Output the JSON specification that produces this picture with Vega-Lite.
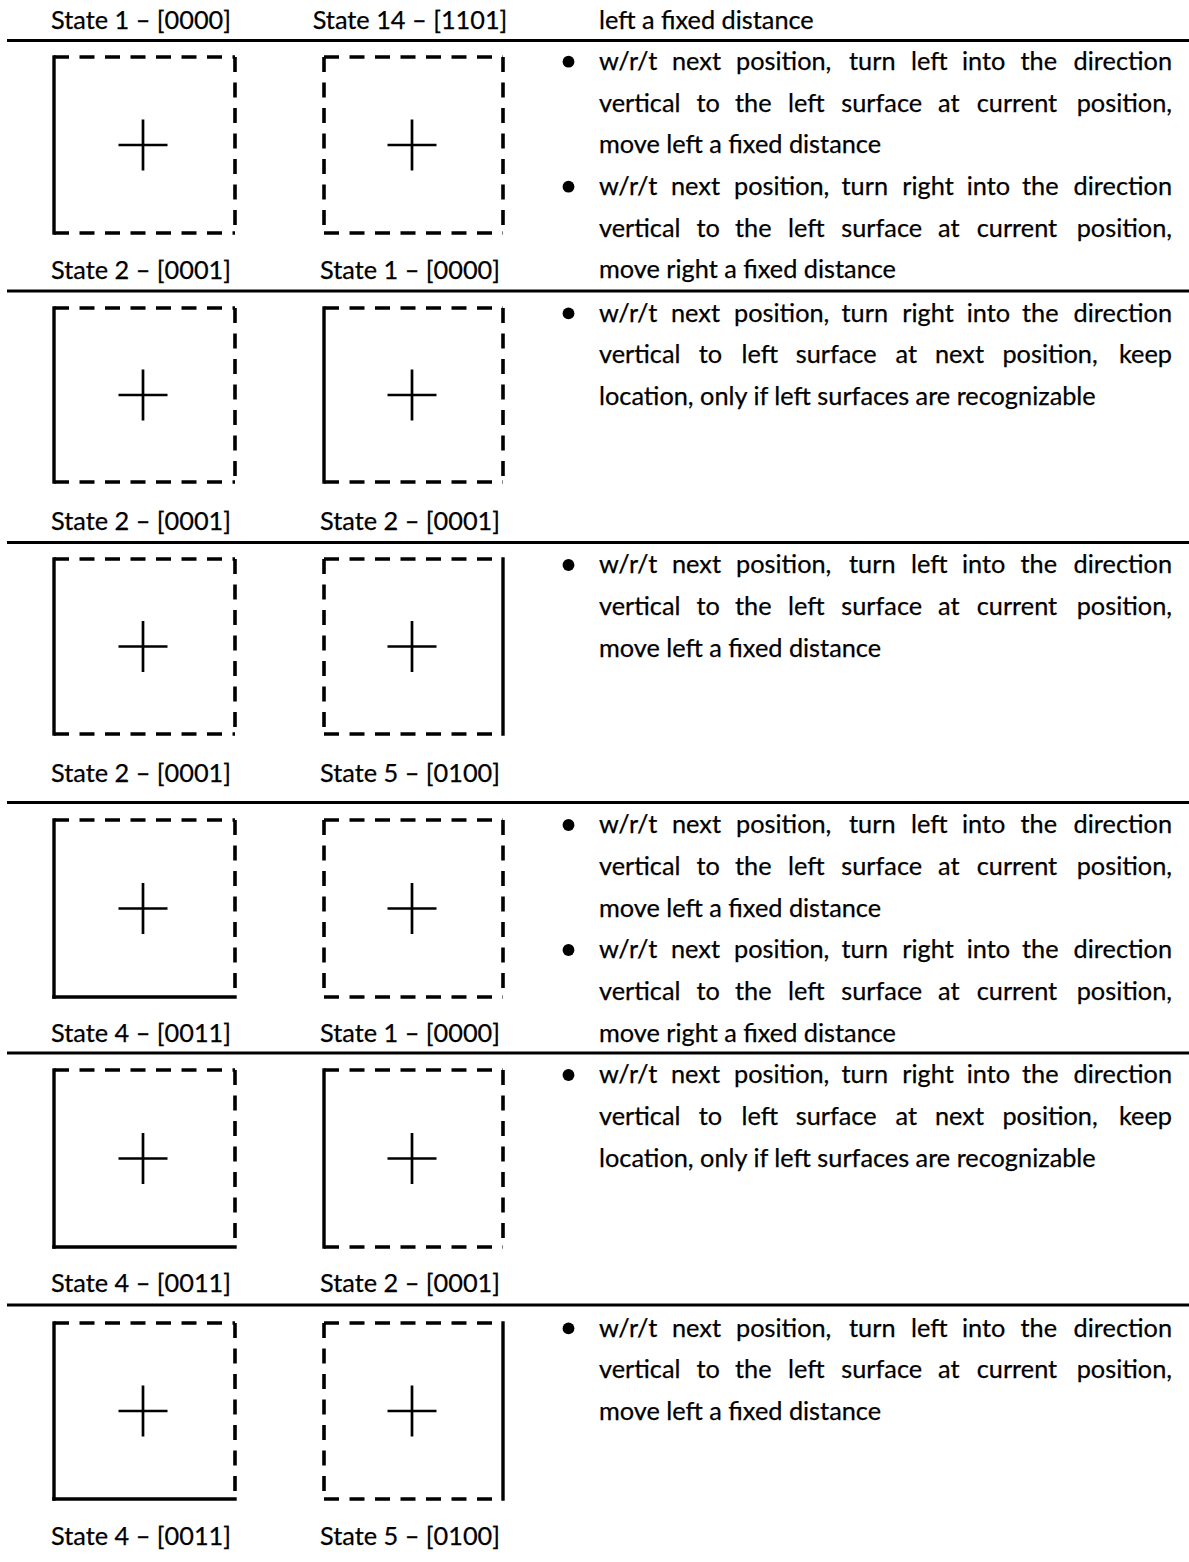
{
"$schema":"https://vega.github.io/schema/vega-lite/v6.json",
"width":1189,"height":1562,"padding":0,"autosize":{"type":"none"},
"background":"white",
"config":{"view":{"stroke":null},"text":{"font":"Lato","fontSize":25.3,"color":"#000","stroke":"#000","strokeWidth":0.25}},
"datasets":{
"segs":[
{"kind":"rule","x":7,"y":40.5,"x2":1189,"y2":40.5},
{"kind":"rule","x":7,"y":291,"x2":1189,"y2":291},
{"kind":"rule","x":7,"y":542.5,"x2":1189,"y2":542.5},
{"kind":"rule","x":7,"y":802.5,"x2":1189,"y2":802.5},
{"kind":"rule","x":7,"y":1053,"x2":1189,"y2":1053},
{"kind":"rule","x":7,"y":1305,"x2":1189,"y2":1305},

{"kind":"dashed","x":54,"y":57,"x2":235,"y2":57},
{"kind":"dashed","x":235,"y":57,"x2":235,"y2":233},
{"kind":"dashed","x":54,"y":233,"x2":235,"y2":233},
{"kind":"solid","x":54,"y":57,"x2":54,"y2":233},
{"kind":"dashed","x":324,"y":57,"x2":503,"y2":57},
{"kind":"dashed","x":503,"y":57,"x2":503,"y2":233},
{"kind":"dashed","x":324,"y":233,"x2":503,"y2":233},
{"kind":"dashed","x":324,"y":57,"x2":324,"y2":233},

{"kind":"dashed","x":54,"y":308,"x2":235,"y2":308},
{"kind":"dashed","x":235,"y":308,"x2":235,"y2":482},
{"kind":"dashed","x":54,"y":482,"x2":235,"y2":482},
{"kind":"solid","x":54,"y":308,"x2":54,"y2":482},
{"kind":"dashed","x":324,"y":308,"x2":503,"y2":308},
{"kind":"dashed","x":503,"y":308,"x2":503,"y2":482},
{"kind":"dashed","x":324,"y":482,"x2":503,"y2":482},
{"kind":"solid","x":324,"y":308,"x2":324,"y2":482},

{"kind":"dashed","x":54,"y":559,"x2":235,"y2":559},
{"kind":"dashed","x":235,"y":559,"x2":235,"y2":734},
{"kind":"dashed","x":54,"y":734,"x2":235,"y2":734},
{"kind":"solid","x":54,"y":559,"x2":54,"y2":734},
{"kind":"dashed","x":324,"y":559,"x2":503,"y2":559},
{"kind":"solid","x":503,"y":559,"x2":503,"y2":734},
{"kind":"dashed","x":324,"y":734,"x2":503,"y2":734},
{"kind":"dashed","x":324,"y":559,"x2":324,"y2":734},

{"kind":"dashed","x":54,"y":820,"x2":235,"y2":820},
{"kind":"dashed","x":235,"y":820,"x2":235,"y2":997},
{"kind":"solid","x":54,"y":997,"x2":235,"y2":997},
{"kind":"solid","x":54,"y":820,"x2":54,"y2":997},
{"kind":"dashed","x":324,"y":820,"x2":503,"y2":820},
{"kind":"dashed","x":503,"y":820,"x2":503,"y2":997},
{"kind":"dashed","x":324,"y":997,"x2":503,"y2":997},
{"kind":"dashed","x":324,"y":820,"x2":324,"y2":997},

{"kind":"dashed","x":54,"y":1070,"x2":235,"y2":1070},
{"kind":"dashed","x":235,"y":1070,"x2":235,"y2":1247},
{"kind":"solid","x":54,"y":1247,"x2":235,"y2":1247},
{"kind":"solid","x":54,"y":1070,"x2":54,"y2":1247},
{"kind":"dashed","x":324,"y":1070,"x2":503,"y2":1070},
{"kind":"dashed","x":503,"y":1070,"x2":503,"y2":1247},
{"kind":"dashed","x":324,"y":1247,"x2":503,"y2":1247},
{"kind":"solid","x":324,"y":1070,"x2":324,"y2":1247},

{"kind":"dashed","x":54,"y":1323,"x2":235,"y2":1323},
{"kind":"dashed","x":235,"y":1323,"x2":235,"y2":1499},
{"kind":"solid","x":54,"y":1499,"x2":235,"y2":1499},
{"kind":"solid","x":54,"y":1323,"x2":54,"y2":1499},
{"kind":"dashed","x":324,"y":1323,"x2":503,"y2":1323},
{"kind":"solid","x":503,"y":1323,"x2":503,"y2":1499},
{"kind":"dashed","x":324,"y":1499,"x2":503,"y2":1499},
{"kind":"dashed","x":324,"y":1323,"x2":324,"y2":1499},

{"kind":"cross","x":118.5,"y":145,"x2":167.5,"y2":145},
{"kind":"cross","x":143,"y":119.5,"x2":143,"y2":170.5},
{"kind":"cross","x":387.5,"y":145,"x2":436.5,"y2":145},
{"kind":"cross","x":412,"y":119.5,"x2":412,"y2":170.5},
{"kind":"cross","x":118.5,"y":395,"x2":167.5,"y2":395},
{"kind":"cross","x":143,"y":369.5,"x2":143,"y2":420.5},
{"kind":"cross","x":387.5,"y":395,"x2":436.5,"y2":395},
{"kind":"cross","x":412,"y":369.5,"x2":412,"y2":420.5},
{"kind":"cross","x":118.5,"y":646.5,"x2":167.5,"y2":646.5},
{"kind":"cross","x":143,"y":621,"x2":143,"y2":672},
{"kind":"cross","x":387.5,"y":646.5,"x2":436.5,"y2":646.5},
{"kind":"cross","x":412,"y":621,"x2":412,"y2":672},
{"kind":"cross","x":118.5,"y":908.5,"x2":167.5,"y2":908.5},
{"kind":"cross","x":143,"y":883,"x2":143,"y2":934},
{"kind":"cross","x":387.5,"y":908.5,"x2":436.5,"y2":908.5},
{"kind":"cross","x":412,"y":883,"x2":412,"y2":934},
{"kind":"cross","x":118.5,"y":1158.5,"x2":167.5,"y2":1158.5},
{"kind":"cross","x":143,"y":1133,"x2":143,"y2":1184},
{"kind":"cross","x":387.5,"y":1158.5,"x2":436.5,"y2":1158.5},
{"kind":"cross","x":412,"y":1133,"x2":412,"y2":1184},
{"kind":"cross","x":118.5,"y":1411,"x2":167.5,"y2":1411},
{"kind":"cross","x":143,"y":1385.5,"x2":143,"y2":1436.5},
{"kind":"cross","x":387.5,"y":1411,"x2":436.5,"y2":1411},
{"kind":"cross","x":412,"y":1385.5,"x2":412,"y2":1436.5}
],
"labels":[
{"x":141,"y":29,"t":"State 1 – [0000]"},{"x":410,"y":29,"t":"State 14 – [1101]"},
{"x":141,"y":279,"t":"State 2 – [0001]"},{"x":410,"y":279,"t":"State 1 – [0000]"},
{"x":141,"y":530,"t":"State 2 – [0001]"},{"x":410,"y":530,"t":"State 2 – [0001]"},
{"x":141,"y":781.5,"t":"State 2 – [0001]"},{"x":410,"y":781.5,"t":"State 5 – [0100]"},
{"x":141,"y":1041.7,"t":"State 4 – [0011]"},{"x":410,"y":1041.7,"t":"State 1 – [0000]"},
{"x":141,"y":1292,"t":"State 4 – [0011]"},{"x":410,"y":1292,"t":"State 2 – [0001]"},
{"x":141,"y":1545,"t":"State 4 – [0011]"},{"x":410,"y":1545,"t":"State 5 – [0100]"}
],
"bullets":[{"x":568.5,"y":61.7},{"x":568.5,"y":186.7},{"x":568.5,"y":313.4},{"x":568.5,"y":565},{"x":568.5,"y":825},{"x":568.5,"y":950},{"x":568.5,"y":1075},{"x":568.5,"y":1328.4}],
"words":[
{"y":29,"x":599,"w":"left a fixed distance"},

{"y":70,"x":599,"w":"w/r/t"},{"y":70,"x":672,"w":"next"},{"y":70,"x":736,"w":"position,"},{"y":70,"x":849,"w":"turn"},{"y":70,"x":911,"w":"left"},{"y":70,"x":962,"w":"into"},{"y":70,"x":1020.5,"w":"the"},
{"y":111.7,"x":599,"w":"vertical"},{"y":111.7,"x":696.5,"w":"to"},{"y":111.7,"x":735,"w":"the"},{"y":111.7,"x":788,"w":"left"},{"y":111.7,"x":841.3,"w":"surface"},{"y":111.7,"x":938,"w":"at"},{"y":111.7,"x":976.7,"w":"current"},
{"y":153.3,"x":599,"w":"move left a fixed distance"},
{"y":195,"x":599,"w":"w/r/t"},{"y":195,"x":671,"w":"next"},{"y":195,"x":734,"w":"position,"},{"y":195,"x":841.5,"w":"turn"},{"y":195,"x":902.3,"w":"right"},{"y":195,"x":966.7,"w":"into"},{"y":195,"x":1022,"w":"the"},
{"y":236.7,"x":599,"w":"vertical"},{"y":236.7,"x":696.5,"w":"to"},{"y":236.7,"x":735,"w":"the"},{"y":236.7,"x":788,"w":"left"},{"y":236.7,"x":841.3,"w":"surface"},{"y":236.7,"x":938,"w":"at"},{"y":236.7,"x":976.7,"w":"current"},
{"y":278.3,"x":599,"w":"move right a fixed distance"},

{"y":321.7,"x":599,"w":"w/r/t"},{"y":321.7,"x":671,"w":"next"},{"y":321.7,"x":734,"w":"position,"},{"y":321.7,"x":841.5,"w":"turn"},{"y":321.7,"x":902.3,"w":"right"},{"y":321.7,"x":966.7,"w":"into"},{"y":321.7,"x":1022,"w":"the"},
{"y":363.3,"x":599,"w":"vertical"},{"y":363.3,"x":698.7,"w":"to"},{"y":363.3,"x":741.5,"w":"left"},{"y":363.3,"x":795.7,"w":"surface"},{"y":363.3,"x":895.6,"w":"at"},{"y":363.3,"x":935,"w":"next"},{"y":363.3,"x":1002.4,"w":"position,"},
{"y":405,"x":599,"w":"location, only if left surfaces are recognizable"},

{"y":573.3,"x":599,"w":"w/r/t"},{"y":573.3,"x":672,"w":"next"},{"y":573.3,"x":736,"w":"position,"},{"y":573.3,"x":849,"w":"turn"},{"y":573.3,"x":911,"w":"left"},{"y":573.3,"x":962,"w":"into"},{"y":573.3,"x":1020.5,"w":"the"},
{"y":615,"x":599,"w":"vertical"},{"y":615,"x":696.5,"w":"to"},{"y":615,"x":735,"w":"the"},{"y":615,"x":788,"w":"left"},{"y":615,"x":841.3,"w":"surface"},{"y":615,"x":938,"w":"at"},{"y":615,"x":976.7,"w":"current"},
{"y":656.7,"x":599,"w":"move left a fixed distance"},

{"y":833.3,"x":599,"w":"w/r/t"},{"y":833.3,"x":672,"w":"next"},{"y":833.3,"x":736,"w":"position,"},{"y":833.3,"x":849,"w":"turn"},{"y":833.3,"x":911,"w":"left"},{"y":833.3,"x":962,"w":"into"},{"y":833.3,"x":1020.5,"w":"the"},
{"y":875,"x":599,"w":"vertical"},{"y":875,"x":696.5,"w":"to"},{"y":875,"x":735,"w":"the"},{"y":875,"x":788,"w":"left"},{"y":875,"x":841.3,"w":"surface"},{"y":875,"x":938,"w":"at"},{"y":875,"x":976.7,"w":"current"},
{"y":916.7,"x":599,"w":"move left a fixed distance"},
{"y":958.3,"x":599,"w":"w/r/t"},{"y":958.3,"x":671,"w":"next"},{"y":958.3,"x":734,"w":"position,"},{"y":958.3,"x":841.5,"w":"turn"},{"y":958.3,"x":902.3,"w":"right"},{"y":958.3,"x":966.7,"w":"into"},{"y":958.3,"x":1022,"w":"the"},
{"y":1000,"x":599,"w":"vertical"},{"y":1000,"x":696.5,"w":"to"},{"y":1000,"x":735,"w":"the"},{"y":1000,"x":788,"w":"left"},{"y":1000,"x":841.3,"w":"surface"},{"y":1000,"x":938,"w":"at"},{"y":1000,"x":976.7,"w":"current"},
{"y":1041.7,"x":599,"w":"move right a fixed distance"},

{"y":1083.3,"x":599,"w":"w/r/t"},{"y":1083.3,"x":671,"w":"next"},{"y":1083.3,"x":734,"w":"position,"},{"y":1083.3,"x":841.5,"w":"turn"},{"y":1083.3,"x":902.3,"w":"right"},{"y":1083.3,"x":966.7,"w":"into"},{"y":1083.3,"x":1022,"w":"the"},
{"y":1125,"x":599,"w":"vertical"},{"y":1125,"x":698.7,"w":"to"},{"y":1125,"x":741.5,"w":"left"},{"y":1125,"x":795.7,"w":"surface"},{"y":1125,"x":895.6,"w":"at"},{"y":1125,"x":935,"w":"next"},{"y":1125,"x":1002.4,"w":"position,"},
{"y":1166.7,"x":599,"w":"location, only if left surfaces are recognizable"},

{"y":1336.7,"x":599,"w":"w/r/t"},{"y":1336.7,"x":672,"w":"next"},{"y":1336.7,"x":736,"w":"position,"},{"y":1336.7,"x":849,"w":"turn"},{"y":1336.7,"x":911,"w":"left"},{"y":1336.7,"x":962,"w":"into"},{"y":1336.7,"x":1020.5,"w":"the"},
{"y":1378.3,"x":599,"w":"vertical"},{"y":1378.3,"x":696.5,"w":"to"},{"y":1378.3,"x":735,"w":"the"},{"y":1378.3,"x":788,"w":"left"},{"y":1378.3,"x":841.3,"w":"surface"},{"y":1378.3,"x":938,"w":"at"},{"y":1378.3,"x":976.7,"w":"current"},
{"y":1420,"x":599,"w":"move left a fixed distance"}
],
"lastwords":[
{"y":70,"x":1172,"w":"direction"},{"y":111.7,"x":1172,"w":"position,"},{"y":195,"x":1172,"w":"direction"},{"y":236.7,"x":1172,"w":"position,"},
{"y":321.7,"x":1172,"w":"direction"},{"y":363.3,"x":1172,"w":"keep"},
{"y":573.3,"x":1172,"w":"direction"},{"y":615,"x":1172,"w":"position,"},
{"y":833.3,"x":1172,"w":"direction"},{"y":875,"x":1172,"w":"position,"},{"y":958.3,"x":1172,"w":"direction"},{"y":1000,"x":1172,"w":"position,"},
{"y":1083.3,"x":1172,"w":"direction"},{"y":1125,"x":1172,"w":"keep"},
{"y":1336.7,"x":1172,"w":"direction"},{"y":1378.3,"x":1172,"w":"position,"}
]
},
"layer":[
{"data":{"name":"segs"},"transform":[{"filter":"datum.kind==='rule'"}],
 "mark":{"type":"rule","color":"#000","strokeWidth":2.8},
 "encoding":{"x":{"field":"x","type":"quantitative","scale":{"domain":[0,1189],"nice":false,"zero":false},"axis":null},
  "y":{"field":"y","type":"quantitative","scale":{"domain":[0,1562],"nice":false,"zero":false,"reverse":true},"axis":null},
  "x2":{"field":"x2"},"y2":{"field":"y2"}}},
{"data":{"name":"segs"},"transform":[{"filter":"datum.kind==='solid'"}],
 "mark":{"type":"rule","color":"#000","strokeWidth":3.4,"strokeCap":"square"},
 "encoding":{"x":{"field":"x","type":"quantitative"},"y":{"field":"y","type":"quantitative"},"x2":{"field":"x2"},"y2":{"field":"y2"}}},
{"data":{"name":"segs"},"transform":[{"filter":"datum.kind==='dashed'"}],
 "mark":{"type":"rule","color":"#000","strokeWidth":3.6,"strokeDash":[15,10.5]},
 "encoding":{"x":{"field":"x","type":"quantitative"},"y":{"field":"y","type":"quantitative"},"x2":{"field":"x2"},"y2":{"field":"y2"}}},
{"data":{"name":"segs"},"transform":[{"filter":"datum.kind==='cross'"}],
 "mark":{"type":"rule","color":"#000","strokeWidth":2.7},
 "encoding":{"x":{"field":"x","type":"quantitative"},"y":{"field":"y","type":"quantitative"},"x2":{"field":"x2"},"y2":{"field":"y2"}}},
{"data":{"name":"labels"},
 "mark":{"type":"text","align":"center","baseline":"alphabetic"},
 "encoding":{"x":{"field":"x","type":"quantitative"},"y":{"field":"y","type":"quantitative"},"text":{"field":"t"}}},
{"data":{"name":"words"},
 "mark":{"type":"text","align":"left","baseline":"alphabetic"},
 "encoding":{"x":{"field":"x","type":"quantitative"},"y":{"field":"y","type":"quantitative"},"text":{"field":"w"}}},
{"data":{"name":"lastwords"},
 "mark":{"type":"text","align":"right","baseline":"alphabetic"},
 "encoding":{"x":{"field":"x","type":"quantitative"},"y":{"field":"y","type":"quantitative"},"text":{"field":"w"}}},
{"data":{"name":"bullets"},
 "mark":{"type":"point","shape":"circle","filled":true,"color":"#000","opacity":1,"size":140},
 "encoding":{"x":{"field":"x","type":"quantitative"},"y":{"field":"y","type":"quantitative"}}}
]
}
